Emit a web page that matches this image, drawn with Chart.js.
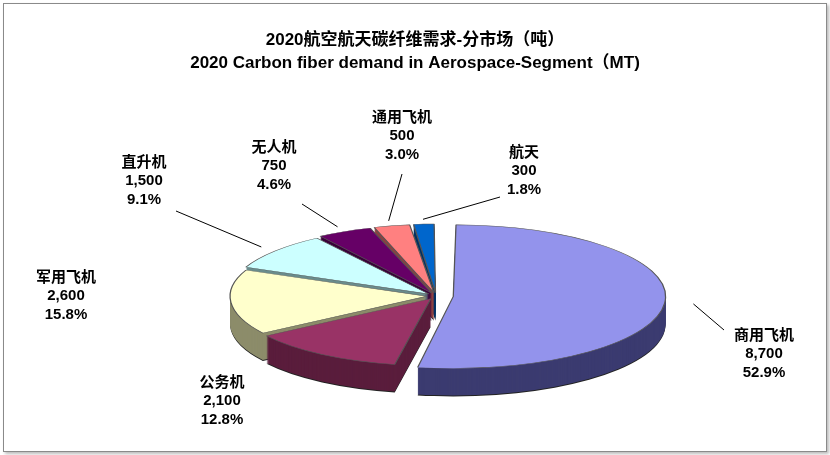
<!DOCTYPE html>
<html><head><meta charset="utf-8">
<script src="https://cdn.jsdelivr.net/npm/chart.js@4"></script>
<style>
body{margin:0;background:#fff;}
#wrap{position:absolute;left:3px;top:3px;width:822px;height:447px;border:1px solid #8a8a8a;box-shadow:2px 2px 3px #bbb;background:#fff;}
</style></head><body>
<div id="wrap"><canvas id="c" width="822" height="447"></canvas></div>
<script>
const categories = ['商用飞机','公务机','军用飞机','直升机','无人机','通用飞机','航天'];
const values = [8700, 2100, 2600, 1500, 750, 500, 300];
const percents = ['52.9%','12.8%','15.8%','9.1%','4.6%','3.0%','1.8%'];
const valueLabels = ['8,700','2,100','2,600','1,500','750','500','300'];
const colors = ['#9393EC','#993366','#FFFFCC','#CCFFFF','#660066','#FF8080','#0066CC'];
const sideColors = ['#3b3b70','#5a1d3c','#8c8c6a','#6a8c8c','#3a003a','#8c4040','#003366'];
const labelPos = [[760,348],[218,395],[62,290],[140,175],[270,160],[398,130],[520,165]];
const hasLeader = [true,false,false,true,true,true,true];
const CX=432, CY=292, RX=195, RY=66, DEPTH=28;

function xf(chart){
  const a=chart.getDatasetMeta(0).data[0];
  return {ox:a.x, oy:a.y, sx:RX/a.outerRadius, sy:RY/a.outerRadius};
}
const pie3d = {
  id:'pie3d',
  beforeDatasetsDraw(chart){
    const ctx=chart.ctx, t=xf(chart), arcs=chart.getDatasetMeta(0).data;
    for(let k=DEPTH;k>0;k--){
      arcs.forEach((el,i)=>{
        ctx.save();
        ctx.translate(CX,CY+k); ctx.scale(t.sx,t.sy); ctx.translate(-t.ox,-t.oy);
        const bg=el.options.backgroundColor, bw=el.options.borderWidth;
        el.options.backgroundColor = k===DEPTH? '#222' : sideColors[i];
        el.options.borderWidth=0;
        el.draw(ctx);
        el.options.backgroundColor=bg; el.options.borderWidth=bw;
        ctx.restore();
      });
    }
    ctx.save();
    ctx.translate(CX,CY); ctx.scale(t.sx,t.sy); ctx.translate(-t.ox,-t.oy);
  },
  afterDatasetsDraw(chart){
    const ctx=chart.ctx; ctx.restore();
    const t=xf(chart), arcs=chart.getDatasetMeta(0).data;
    ctx.save();
    ctx.textAlign='center'; ctx.textBaseline='middle';
    arcs.forEach((el,i)=>{
      const [lx,ly]=labelPos[i];
      const mid=(el.startAngle+el.endAngle)/2;
      const off=el.options.offset||0;
      const r=el.outerRadius*0.97+off;
      const px=CX+(el.x-t.ox+Math.cos(mid)*r)*t.sx;
      const py=CY+(el.y-t.oy+Math.sin(mid)*r)*t.sy;
      if(hasLeader[i]){
        ctx.strokeStyle='#000'; ctx.lineWidth=1;
        ctx.beginPath();
        let ax=lx, ay=ly+22;
        if(i===0){ax=lx-40; ay=ly-22;}
        if(i===3){ax=lx+32; ay=ly+32;}
        if(i===4){ax=lx+28; ay=ly+40;}
        if(i===5){ax=lx; ay=ly+40;}
        if(i===6){ax=lx-24; ay=ly+28;}
        ctx.moveTo(ax,ay); ctx.lineTo(px,py); ctx.stroke();
      }
      ctx.fillStyle='#000';
      ctx.font='bold 15px "Noto Sans CJK SC", sans-serif';
      ctx.fillText(categories[i],lx,ly-18);
      ctx.font='bold 15px "Liberation Sans", Arial, sans-serif';
      ctx.fillText(valueLabels[i],lx,ly+2);
      ctx.fillText(percents[i],lx,ly+21);
    });
    ctx.restore();
  }
};
new Chart(document.getElementById('c'),{
  type:'pie',
  data:{labels:categories,datasets:[{data:values,backgroundColor:colors,borderColor:'#555',borderWidth:1,offset:[55,30,30,30,30,30,30]}]},
  options:{responsive:false,devicePixelRatio:1,animation:false,
    layout:{padding:{top:10}},
    plugins:{legend:{display:false},tooltip:{enabled:false},
      title:{display:true,text:['2020航空航天碳纤维需求-分市场（吨）','2020 Carbon fiber demand in Aerospace-Segment（MT)'],
        color:'#000',font:{size:17,weight:'bold',family:'"Liberation Sans","Noto Sans CJK SC",sans-serif',lineHeight:1.4},padding:{top:14,bottom:10}}}},
  plugins:[pie3d]
});
</script></body></html>
